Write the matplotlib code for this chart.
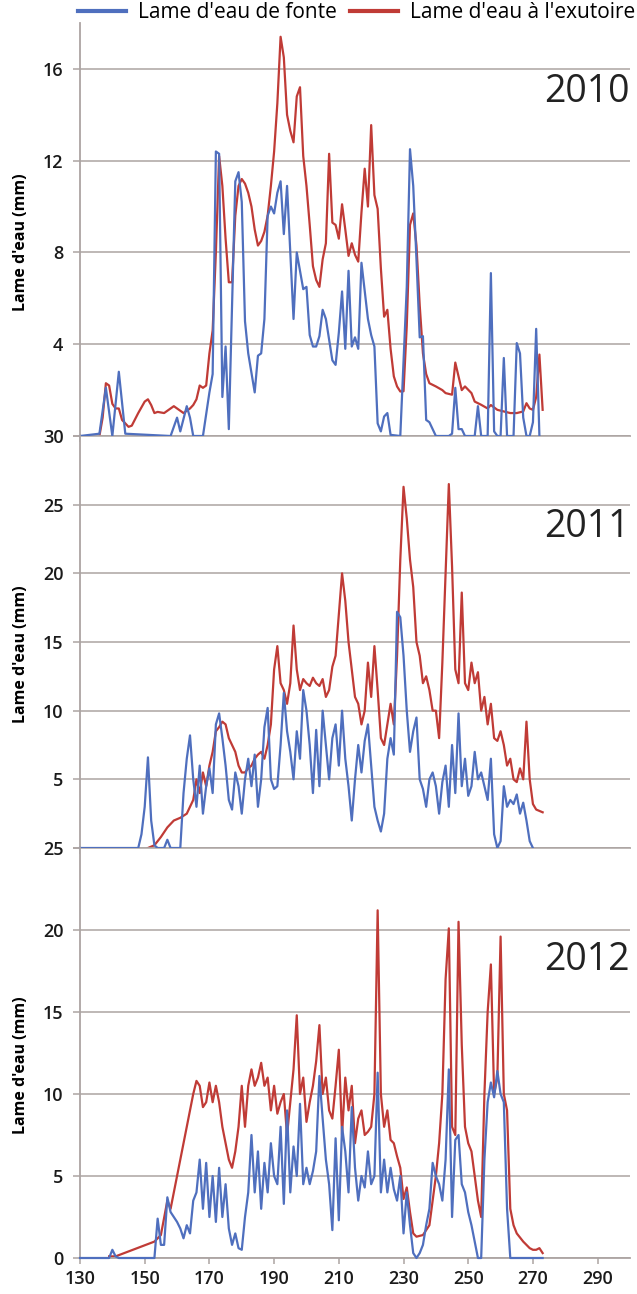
import matplotlib.pyplot as plt

plt.rcParams['font.family'] = ['Open Sans', 'DejaVu Sans']

BLEU = '#4f6fbe'
ROUGE = '#c03b36'
GRIS = '#aca4a2'

# --- 2010 ---
jours_fonte_2010 = [130, 136, 138, 140, 142, 144, 158, 160, 161, 163, 164, 165, 168, 170, 171, 172, 173, 174, 175,
                    176, 178, 179, 180, 181, 182, 184, 185, 186, 187, 188, 189, 190, 191, 192, 193, 194, 195, 196,
                    197, 199, 200, 201, 202, 203, 204, 205, 206, 208, 209, 210, 211, 212, 213, 214, 215, 216, 217,
                    219, 220, 221, 222, 223, 224, 225, 226, 229, 231, 232, 233, 234, 235, 236, 237, 238, 240, 244,
                    245, 246, 247, 248, 249, 252, 253, 254, 256, 257, 258, 259, 260, 261, 262, 264, 265, 266, 267,
                    268, 269, 270, 271, 272]
fonte_2010 = [0, 0.1, 2.1, 0, 2.8, 0.1, 0, 0.8, 0.2, 1.3, 0.8, 0, 0, 1.9, 2.7, 12.4, 12.3, 1.7, 3.9,
              0.3, 11.1, 11.5, 10.2, 5.0, 3.6, 1.9, 3.5, 3.6, 5.1, 9.6, 10.0, 9.7, 10.6, 11.1, 8.8, 10.9, 8.0, 5.1,
              8.0, 6.4, 6.5, 4.4, 3.9, 3.9, 4.35, 5.5, 5.1, 3.3, 3.1, 4.5, 6.3, 3.8, 7.2, 3.9, 4.3, 3.8, 7.55,
              5.1, 4.4, 3.9, 0.55, 0.2, 0.85, 1.0, 0.05, 0, 6.5, 12.5, 10.9, 7.7, 4.3, 4.35, 0.7, 0.6, 0, 0,
              0.1, 2.1, 0.3, 0.3, 0, 0, 1.3, 0, 0, 7.1, 0.2, 0, 0, 3.4, 0, 0, 4.05, 3.6, 0.8,
              0, 0, 0.6, 4.67, 0]

jours_exut_2010 = [136, 137, 138, 139, 140, 141, 142, 143, 145, 146, 148, 150, 151, 152, 153, 154, 156, 157, 159,
                   160, 162, 164, 165, 166, 167, 168, 169, 170, 171, 172, 173, 174, 175, 176, 177, 178, 179, 180,
                   181, 182, 183, 184, 185, 186, 187, 188, 189, 190, 191, 192, 193, 194, 195, 196, 197, 198, 199,
                   200, 201, 202, 203, 204, 205, 206, 207, 208, 209, 210, 211, 212, 213, 214, 215, 216, 217, 218,
                   219, 220, 221, 222, 223, 224, 225, 226, 227, 228, 229, 230, 231, 232, 233, 234, 235, 236, 237,
                   238, 240, 242, 243, 245, 246, 247, 248, 249, 251, 252, 254, 256, 257, 259, 261, 263, 265, 267,
                   268, 269, 270, 271, 272, 273]
exut_2010 = [0, 0.8, 2.3, 2.2, 1.4, 1.2, 1.2, 0.7, 0.4, 0.45, 1.0, 1.5, 1.6, 1.35, 1.0, 1.05, 1.0, 1.1, 1.3,
             1.2, 1.0, 1.2, 1.35, 1.6, 2.2, 2.1, 2.2, 3.6, 4.6, 8.0, 12.2, 10.9, 8.6, 6.7, 6.7, 9.6, 10.9, 11.2,
             11.0, 10.6, 10.0, 9.0, 8.3, 8.5, 8.9, 9.6, 10.9, 12.4, 14.5, 17.4, 16.5, 14.0, 13.3, 12.8, 14.8, 15.2, 12.2,
             10.9, 9.2, 7.4, 6.8, 6.5, 7.7, 8.4, 12.3, 9.3, 9.2, 8.6, 10.1, 9.0, 7.85, 8.4, 7.9, 7.6, 9.75, 11.65,
             10.0, 13.55, 10.5, 9.9, 7.3, 5.2, 5.5, 3.8, 2.6, 2.16, 1.94, 1.95, 4.8, 9.2, 9.7, 8.3, 5.7, 3.6, 2.7,
             2.3, 2.16, 2.0, 1.87, 1.8, 3.2, 2.6, 2.0, 2.16, 1.87, 1.5, 1.36, 1.2, 1.35, 1.14, 1.07, 1.0, 1.0, 1.07,
             1.43, 1.2, 1.14, 1.7, 3.55, 1.14]

# --- 2011 ---
jours_fonte_2011 = [130, 148, 149, 150, 151, 152, 153, 154, 156, 157, 158, 161] + list(range(162, 271))
fonte_2011 = [0, 0, 1.0, 3.0, 6.6, 2.0, 0.2, 0, 0, 0.6, 0, 0,
              4.0, 6.5, 8.2, 5.0, 3.0, 6.0, 2.5, 4.5, 5.8, 4.0, 9.0, 9.8, 8.0, 6.0, 3.5, 2.8, 5.5, 4.5,
              2.5, 5.0, 6.5, 4.5, 6.8, 3.0, 5.0, 8.8, 10.2, 5.0, 4.3, 4.5, 7.5, 11.3, 8.5, 7.0, 5.0, 8.5,
              6.5, 11.5, 10.0, 7.5, 4.0, 8.6, 4.5, 10.0, 7.5, 5.0, 8.0, 9.0, 6.0, 10.0, 6.5, 4.5, 2.0, 5.0,
              7.5, 5.5, 7.8, 9.0, 6.0, 3.0, 2.0, 1.2, 2.5, 6.5, 8.0, 6.8, 17.2, 16.8, 14.0, 10.0, 7.0, 8.5,
              9.5, 5.0, 4.3, 3.0, 5.0, 5.5, 4.5, 2.5, 4.8, 6.0, 3.0, 7.5, 4.0, 9.8, 4.5, 6.5, 3.8, 4.5,
              7.0, 5.0, 5.5, 4.5, 3.5, 6.5, 1.0, 0, 0.5, 4.5, 3.0, 3.5, 3.2, 3.9, 2.5, 3.3, 2.0, 0.5, 0]

jours_exut_2011 = [151, 153, 155, 157, 159, 161, 163] + list(range(164, 274))
exut_2011 = [0, 0.2, 0.8, 1.5, 2.0, 2.2, 2.5,
             3.0, 3.5, 5.0, 4.0, 5.5, 4.5, 6.0, 7.0, 8.5, 8.8, 9.2, 9.0, 8.0, 7.5, 7.0, 6.0, 5.5, 5.5,
             5.8, 6.0, 6.5, 6.8, 7.0, 6.5, 7.5, 9.0, 13.0, 14.7, 12.0, 11.5, 10.5, 12.0, 16.2, 13.0, 11.5,
             12.3, 12.0, 11.8, 12.4, 12.0, 11.8, 12.3, 11.0, 11.5, 13.2, 14.0, 17.0, 20.0, 18.0, 15.0, 13.0,
             11.0, 10.5, 9.0, 10.0, 13.5, 11.0, 14.7, 11.5, 8.0, 7.5, 9.0, 10.5, 9.0, 14.0, 21.0, 26.3, 24.0,
             21.0, 19.0, 15.0, 14.0, 12.0, 12.5, 11.5, 10.0, 10.0, 8.0, 13.5, 20.0, 26.5, 20.5, 13.0, 12.0,
             18.6, 12.0, 11.5, 13.5, 12.0, 12.8, 10.0, 11.0, 9.0, 10.5, 8.0, 7.8, 8.5, 7.5, 6.0, 6.5, 5.0,
             4.8, 5.8, 5.0, 9.2, 5.0, 3.2, 2.8, 2.7, 2.6]

# --- 2012 ---
jours_fonte_2012 = [130, 139, 140, 141, 142, 153] + list(range(154, 264)) + [273]
fonte_2012 = [0, 0, 0.5, 0.1, 0, 0,
              2.4, 0.8, 0.8, 3.7, 2.8, 2.5, 2.2, 1.8, 1.2, 2.0, 1.5, 3.5, 4.0, 6.0, 3.0, 5.8, 2.5, 5.0,
              2.2, 5.5, 2.5, 4.5, 1.8, 0.8, 1.5, 0.6, 0.5, 2.5, 4.0, 7.5, 4.0, 6.5, 3.0, 5.8, 4.0, 7.0,
              5.0, 4.5, 8.0, 3.3, 9.0, 4.0, 6.8, 5.0, 9.4, 4.5, 5.5, 4.5, 5.3, 6.5, 11.1, 8.5, 6.0, 4.5,
              1.7, 7.3, 2.3, 8.0, 6.5, 4.0, 9.2, 5.5, 3.5, 5.0, 4.3, 6.5, 4.5, 5.0, 11.3, 4.0, 6.0, 4.0,
              5.5, 4.2, 3.5, 5.0, 1.5, 4.0, 2.0, 0.3, 0, 0.3, 0.8, 2.0, 3.0, 5.8, 5.0, 4.5, 3.5, 6.0,
              11.5, 2.5, 7.2, 7.5, 4.5, 4.0, 2.8, 2.0, 1.0, 0, 0, 6.0, 9.5, 10.7, 9.8, 11.4, 10.0, 9.5,
              3.0, 0, 0]

jours_exut_2012 = [139, 141, 153, 155] + list(range(157, 235)) + [236, 238] + list(range(239, 266)) + \
                  [267, 269, 270, 271, 272, 273]
exut_2012 = [0.1, 0.1, 1.0, 1.4,
             3.5, 3.0, 4.0, 5.0, 6.0, 7.0, 8.0, 9.0, 10.0, 10.8, 10.5, 9.2, 9.5, 10.7, 9.5, 10.5, 9.5,
             8.0, 7.0, 6.0, 5.5, 6.5, 8.0, 10.5, 8.0, 10.5, 11.5, 10.5, 11.0, 11.9, 10.5, 11.0, 9.0, 10.5,
             8.8, 9.5, 10.0, 7.5, 9.5, 11.5, 14.8, 10.0, 11.0, 8.3, 9.5, 10.5, 12.0, 14.2, 10.0, 11.0, 9.0,
             8.5, 10.5, 12.7, 7.5, 11.0, 9.0, 10.5, 7.0, 8.5, 9.0, 7.5, 7.7, 8.0, 10.0, 21.2, 10.0, 8.0,
             9.0, 7.2, 7.0, 6.2, 5.5, 3.6, 4.3, 2.8, 1.5, 1.3,
             1.4, 2.0,
             3.5, 5.0, 7.0, 10.0, 17.0, 20.1, 8.0, 7.5, 20.5, 13.0, 8.0, 7.0, 6.5, 5.0, 3.5, 2.5, 10.0,
             15.0, 17.9, 10.0, 11.0, 19.6, 10.0, 9.0, 3.0, 2.0, 1.5,
             1.0, 0.6, 0.5, 0.5, 0.6, 0.3]

annees = ['2010', '2011', '2012']
fonte = [(jours_fonte_2010, fonte_2010), (jours_fonte_2011, fonte_2011), (jours_fonte_2012, fonte_2012)]
exut = [(jours_exut_2010, exut_2010), (jours_exut_2011, exut_2011), (jours_exut_2012, exut_2012)]
ymax = [18, 30, 25]
yticks = [[0, 4, 8, 12, 16], [0, 5, 10, 15, 20, 25, 30], [0, 5, 10, 15, 20, 25]]
ylabels = [['', '4', '8', '12', '16'], ['', '5', '10', '15', '20', '25', '30'],
           ['0', '5', '10', '15', '20', '25']]
xticks = [130, 150, 170, 190, 210, 230, 250, 270, 290]

# pixel boxes (top, bottom) of each panel
W, H = 637, 1294
boites = [(23, 436), (436, 848), (848, 1258)]
annee_y = [0.833, 0.779, 0.727]

fig = plt.figure(figsize=(W / 100, H / 100), dpi=100)

axes = []
for i in range(3):
    top, bot = boites[i]
    ax = fig.add_axes([80 / W, 1 - bot / H, 550 / W, (bot - top) / H])
    axes.append(ax)
    ax.set_xlim(130, 300)
    ax.set_ylim(0, ymax[i])
    for s in ['top', 'right']:
        ax.spines[s].set_visible(False)
    for s in ['left', 'bottom']:
        ax.spines[s].set_color(GRIS)
        ax.spines[s].set_linewidth(1.3)
    ax.set_yticks(yticks[i])
    ax.set_yticklabels(ylabels[i])
    ax.set_xticks(xticks)
    ax.tick_params(axis='y', length=5, width=1.1, color=GRIS, pad=7,
                   labelsize=13, labelcolor='#1a1a1a')
    ax.tick_params(axis='x', length=4, width=1.1, color=GRIS, pad=5,
                   labelsize=13, labelcolor='#1a1a1a', labelbottom=(i == 2))
    for lab in ax.get_yticklabels() + ax.get_xticklabels():
        lab.set_fontweight('semibold')
    ax.yaxis.grid(True, color=GRIS, lw=1.1)
    ax.set_axisbelow(True)

    ax.plot(fonte[i][0], fonte[i][1], color=BLEU, lw=1.6, clip_on=False,
            label="Lame d'eau de fonte", zorder=3)
    ax.plot(exut[i][0], exut[i][1], color=ROUGE, lw=1.6, clip_on=False,
            label="Lame d'eau à l'exutoire", zorder=2)

    ax.set_ylabel("Lame d'eau (mm)", fontsize=11.5, fontweight='bold')
    ax.yaxis.set_label_coords(-0.092, 0.47)
    ax.text(1.0, annee_y[i], annees[i], transform=ax.transAxes, ha='right', va='center',
            fontsize=27, color='#222222')

handles, labels = axes[0].get_legend_handles_labels()
leg = fig.legend(handles, labels, loc='upper left', bbox_to_anchor=(78 / W, 1 - 2 / H), ncol=2,
                 frameon=False, fontsize=15, handlelength=2.3, handletextpad=0.6,
                 columnspacing=0.6, borderaxespad=0, borderpad=0)
for h in leg.legend_handles:
    h.set_linewidth(3)

fig.savefig('out.png', dpi=100)
